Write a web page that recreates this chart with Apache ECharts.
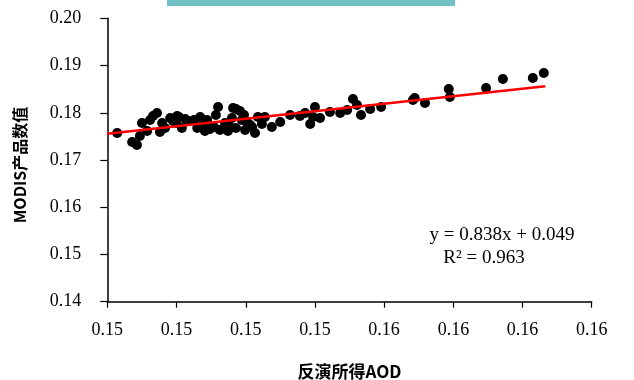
<!DOCTYPE html>
<html>
<head>
<meta charset="utf-8">
<script src="https://cdn.jsdelivr.net/npm/echarts@6/dist/echarts.min.js"></script>
<style>
  html, body { margin: 0; padding: 0; background: #fff; }
  #chart { width: 634px; height: 380px; }
</style>
</head>
<body>
<div id="chart"></div>
<script>
// Retrieved AOD (x) against MODIS product values (y)
const aodRetrieved = [
  0.15130, 0.15171, 0.15184, 0.15192, 0.15198, 0.15212, 0.15228, 0.15239, 0.15247, 0.15253,
  0.15275, 0.15283, 0.15294, 0.15299, 0.15316, 0.15324, 0.15340, 0.15357, 0.15365, 0.15376,
  0.15384, 0.15395, 0.15400, 0.15406, 0.15411, 0.15425, 0.15433, 0.15447, 0.15455, 0.15466,
  0.15471, 0.15477, 0.15485, 0.15494, 0.15499, 0.15507, 0.15515, 0.15534, 0.15553, 0.15576,
  0.15603, 0.15644, 0.15658, 0.15666, 0.15671, 0.15685, 0.15740, 0.15759, 0.15775, 0.15786,
  0.15797, 0.15822, 0.15852, 0.15939, 0.15944, 0.15972, 0.16037, 0.16040, 0.16139, 0.16185,
  0.16267, 0.16297, 0.15220, 0.15261, 0.15307, 0.15349, 0.15370, 0.15439, 0.15455, 0.15480,
  0.15444, 0.15526, 0.15291, 0.15630, 0.15712
];
const modisValue = [
  0.17571, 0.17381, 0.17317, 0.17508, 0.17783, 0.17614, 0.17931, 0.17995, 0.17593, 0.17783,
  0.17889, 0.17826, 0.17931, 0.17910, 0.17868, 0.17826, 0.17847, 0.17910, 0.17762, 0.17847,
  0.17656, 0.17699, 0.17952, 0.18122, 0.17635, 0.17783, 0.17614, 0.18101, 0.18080, 0.18037,
  0.17847, 0.17952, 0.17804, 0.17741, 0.17699, 0.17571, 0.17910, 0.17910, 0.17699, 0.17804,
  0.17952, 0.17995, 0.17762, 0.17910, 0.18122, 0.17889, 0.17995, 0.18058, 0.18291, 0.18164,
  0.17952, 0.18080, 0.18122, 0.18270, 0.18312, 0.18206, 0.18503, 0.18333, 0.18524, 0.18715,
  0.18736, 0.18842, 0.17847, 0.17677, 0.17677, 0.17677, 0.17614, 0.17699, 0.17677, 0.17635,
  0.17889, 0.17762, 0.17783, 0.17931, 0.18016
];

// Linear trend line
const trendSlope = 0.838;
const trendIntercept = 0.049;
const trendR2 = 0.963;
const trendRange = [0.15103, 0.16301];

// Axis ticks
const xTickValues = [0.15103, 0.15292, 0.15482, 0.15671, 0.15860, 0.16050, 0.16239, 0.16428];
const xTickLabels = ['0.15', '0.15', '0.15', '0.15', '0.16', '0.16', '0.16', '0.16'];
const yTickValues = [0.14, 0.15, 0.16, 0.17, 0.18, 0.19, 0.20];

const points = aodRetrieved.map((x, i) => [x, modisValue[i]]);
const trendPoints = trendRange.map(x => [x, trendSlope * x + trendIntercept]);

const serif = '"Liberation Serif", "Times New Roman", serif';
const cjkBold = '"Noto Sans CJK SC", "Noto Sans", sans-serif';

function xLabel(v) {
  let best = 0;
  xTickValues.forEach((t, i) => {
    if (Math.abs(t - v) < Math.abs(xTickValues[best] - v)) best = i;
  });
  return xTickLabels[best];
}

const chart = echarts.init(document.getElementById('chart'), null, { renderer: 'canvas' });

chart.setOption({
  backgroundColor: '#ffffff',
  animation: false,
  grid: {
    left: 107.3, right: 42.3, top: 18.3, bottom: 78.3,
    containLabel: false,
    outerBoundsMode: 'none'
  },
  xAxis: {
    type: 'value',
    min: xTickValues[0],
    max: xTickValues[xTickValues.length - 1],
    name: '反演所得AOD',
    nameLocation: 'middle',
    nameGap: 61,
    nameTextStyle: { fontFamily: cjkBold, fontWeight: 'bold', fontSize: 17, color: '#000' },
    axisLine: { show: true, onZero: false, lineStyle: { color: '#000', width: 1.5 } },
    axisTick: { show: true, inside: false, length: 6, customValues: xTickValues, lineStyle: { color: '#000', width: 1.2 } },
    axisLabel: {
      customValues: xTickValues,
      margin: 20,
      fontFamily: serif, fontSize: 18, color: '#000',
      formatter: v => xLabel(v)
    },
    splitLine: { show: false }
  },
  yAxis: {
    type: 'value',
    min: yTickValues[0],
    max: yTickValues[yTickValues.length - 1],
    interval: 0.01,
    name: 'MODIS产品数值',
    nameLocation: 'middle',
    nameGap: 79,
    nameRotate: 90,
    nameTextStyle: { fontFamily: cjkBold, fontWeight: 'bold', fontSize: 16, color: '#000', padding: [0, 10, 0, 0] },
    axisLine: { show: true, onZero: false, lineStyle: { color: '#000', width: 1.5 } },
    axisTick: { show: true, inside: false, length: 7, lineStyle: { color: '#000', width: 1.2 } },
    axisLabel: {
      margin: 26,
      fontFamily: serif, fontSize: 18, color: '#000',
      formatter: v => v.toFixed(2)
    },
    splitLine: { show: false }
  },
  graphic: [
    {
      type: 'rect',
      shape: { x: 167, y: 0, width: 288, height: 6 },
      style: { fill: '#72BFC4' },
      silent: true
    },
    {
      type: 'text',
      x: 502, y: 235,
      style: {
        text: 'y = ' + trendSlope.toFixed(3) + 'x + ' + trendIntercept.toFixed(3),
        fontFamily: serif, fontSize: 19, fill: '#000',
        align: 'center', verticalAlign: 'middle'
      }
    },
    {
      type: 'text',
      x: 484, y: 258,
      style: {
        text: 'R² = ' + trendR2.toFixed(3),
        fontFamily: serif, fontSize: 19, fill: '#000',
        align: 'center', verticalAlign: 'middle'
      }
    }
  ],
  series: [
    {
      type: 'scatter',
      data: points,
      symbol: 'circle',
      symbolSize: 10,
      itemStyle: { color: '#000', opacity: 1 },
      z: 2
    },
    {
      type: 'line',
      data: trendPoints,
      showSymbol: false,
      symbol: 'none',
      lineStyle: { color: '#ff0000', width: 2.5 },
      z: 3
    }
  ]
});
</script>
</body>
</html>
